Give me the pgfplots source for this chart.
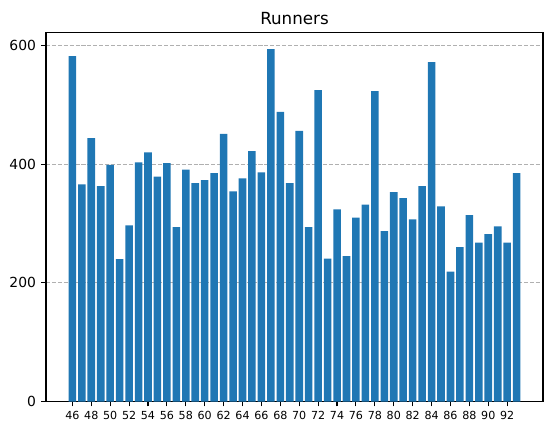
\documentclass[border=0pt]{standalone}
\usepackage{pgfplots}
\pgfplotsset{compat=1.18}
\usepackage{fontspec}
\setmainfont{DejaVu Sans}
\definecolor{mplblue}{HTML}{1F77B4}
\definecolor{gridgray}{HTML}{B0B0B0}
\begin{document}
\begin{tikzpicture}
\useasboundingbox (-46bp,-29.5bp) rectangle (506bp,401.5bp);
\begin{axis}[
  at={(0,0)}, anchor=south west,
  width=497bp, height=368.6bp, scale only axis,
  xmin=43.21, xmax=95.79, ymin=0, ymax=621.3,
  axis line style={line width=1.1bp},
  tick style={line width=1.1bp, black},
  major tick length=4.9bp,
  tick align=outside,
  xtick={46,48,...,92},
  ytick={0,200,400,600},
  xtick pos=bottom, ytick pos=left,
  xticklabel style={font=\fontsize{11.1bp}{13bp}\selectfont, inner sep=0pt, yshift=-4.9bp},
  yticklabel style={font=\fontsize{13.9bp}{16bp}\selectfont, inner sep=0pt, xshift=-4.9bp},
  /pgf/number format/assume math mode=true,
  ymajorgrids,
  grid style={gridgray, line width=1.1bp, dash pattern=on 4.1bp off 1.8bp},
  title={Runners},
  title style={at={(0.5,1)}, anchor=base, yshift=2.3bp, font=\fontsize{16.7bp}{20bp}\selectfont, inner sep=0pt},
]
\addplot[ybar, bar width=0.8, bar shift=0pt, fill=mplblue, draw=none] coordinates {
(46,582) (47,366) (48,444) (49,363) (50,399) (51,240) (52,297) (53,403)
(54,420) (55,379) (56,402) (57,294) (58,391) (59,368) (60,373) (61,385)
(62,451) (63,354) (64,376) (65,422) (66,386) (67,594) (68,488) (69,368)
(70,456) (71,294) (72,525) (73,241) (74,324) (75,245) (76,310) (77,332)
(78,523) (79,287) (80,353) (81,343) (82,307) (83,363) (84,572) (85,329)
(86,219) (87,260) (88,314) (89,268) (90,282) (91,295) (92,268) (93,385)
};
\end{axis}
\end{tikzpicture}
\end{document}
